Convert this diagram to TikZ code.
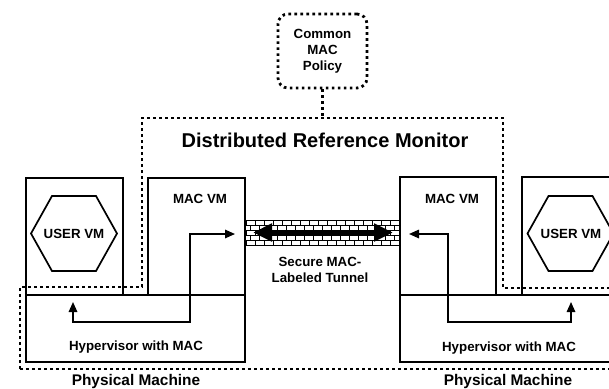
\documentclass[tikz,border=0pt]{standalone}
\usepackage{fontspec}
\setmainfont{Liberation Sans}
\usetikzlibrary{arrows.meta}
\begin{document}
\begin{tikzpicture}[x=1pt,y=-1pt,
  box/.style={draw=black,line width=1.7pt},
  dots/.style={line width=2.8pt,dash pattern=on 2.6pt off 3.4pt},
  lbl/.style={font=\fontsize{13.3}{16}\selectfont\bfseries,align=center,inner sep=0pt},
  flow/.style={line width=1.6pt,{Triangle[length=10pt,width=8.5pt]}-{Triangle[length=10pt,width=8.5pt]}},
  bigflow/.style={line width=5pt,{Triangle[length=19pt,width=17pt]}-{Triangle[length=19pt,width=17pt]}},
  brick/.style={line width=0.9pt,draw=black}
]
\useasboundingbox (0,0) rectangle (609,388);
\clip (0,0) rectangle (609,388);

% dotted reference monitor outline
\draw[dots] (20,369) -- (20,287) -- (142,287) -- (142,118) -- (503,118) -- (503,288) -- (615,288);
\draw[dots] (20,369) -- (615,369);

% common policy
\node[draw, dots, rounded corners=10pt, minimum width=89pt, minimum height=74pt, lbl] (policy) at (322.5,51) {Common\\MAC\\Policy};
\coordinate (drmtop) at (322.5,118);
\draw[dots] (policy.south) -- (drmtop);

\node[font=\fontsize{20}{24}\selectfont\bfseries, inner sep=0pt] (drm) at (325,140) {Distributed Reference Monitor};

% left machine
\draw[box] (26,178) rectangle (123,295);
\draw[box] (148,178) rectangle (245,295);
\draw[box] (26,295) rectangle (245,362);
\draw[box] (31,233.5) -- (52,196) -- (96,196) -- (117,233.5) -- (96,271) -- (52,271) -- cycle;
\node[lbl] (uvl) at (74,233.5) {USER VM};
\node[lbl] (mvl) at (200,199) {MAC VM};
\node[lbl] (hvl) at (136,347) {Hypervisor with MAC};
\node[font=\fontsize{15.4}{18}\selectfont\bfseries, inner sep=0pt] (pml) at (136,382) {Physical Machine};

% right machine
\draw[box] (400,177) rectangle (496,295);
\draw[box] (522,177) rectangle (620,295);
\draw[box] (400,295) rectangle (620,362);
\draw[box] (527.5,233.5) -- (548.5,196) -- (592.5,196) -- (613.5,233.5) -- (592.5,271) -- (548.5,271) -- cycle;
\node[lbl] (uvr) at (571,233.5) {USER VM};
\node[lbl] (mvr) at (452,199) {MAC VM};
\node[lbl] (hvr) at (509,348) {Hypervisor with MAC};
\node[font=\fontsize{15.4}{18}\selectfont\bfseries, inner sep=0pt] (pmr) at (508,382) {Physical Machine};

% tunnel bricks
\begin{scope}
  \clip (246,220) rectangle (399,245);
  \fill[white] (246,220) rectangle (399,245);
  \foreach \r in {0,...,4} {
    \pgfmathsetmacro{\yt}{220+5*\r}
    \pgfmathsetmacro{\yb}{225+5*\r}
    \pgfmathsetmacro{\off}{mod(\r,2)*4.5}
    \draw[brick] (246,\yt) -- (399,\yt);
    \foreach \k in {0,...,17} {
      \pgfmathsetmacro{\xx}{246+\off+9*\k}
      \draw[brick] (\xx,\yt) -- (\xx,\yb);
    }
  }
  \draw[brick] (246,245) -- (399,245);
\end{scope}
\coordinate (t1) at (253,232.5);
\coordinate (t2) at (393,232.5);
\draw[bigflow] (t1) -- (t2);
\node[lbl] (tun) at (320,270) {Secure MAC-\\Labeled Tunnel};

% left flow
\coordinate (a1) at (235,234);
\coordinate (a2) at (190,234);
\coordinate (a3) at (190,322);
\coordinate (a4) at (73,322);
\coordinate (a5) at (73,302);
\draw[flow] (a1) -- (a2) -- (a3) -- (a4) -- (a5);

% right flow
\coordinate (b1) at (409,234);
\coordinate (b2) at (448,234);
\coordinate (b3) at (448,322);
\coordinate (b4) at (571,322);
\coordinate (b5) at (571,302);
\draw[flow] (b1) -- (b2) -- (b3) -- (b4) -- (b5);
\end{tikzpicture}
\end{document}
